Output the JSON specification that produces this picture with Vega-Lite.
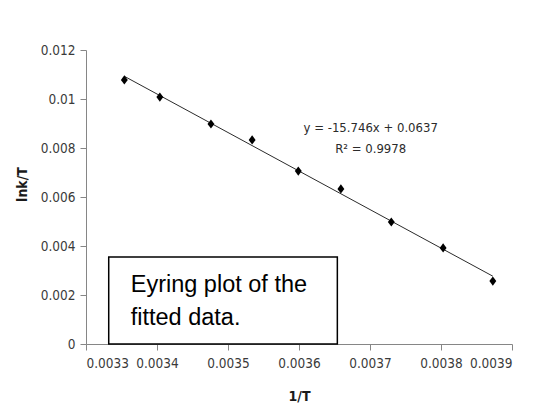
{
  "$schema": "https://vega.github.io/schema/vega-lite/v6.json",
  "width": 426,
  "height": 294,
  "autosize": {"type": "none"},
  "padding": {"left": 86, "top": 50, "right": 38, "bottom": 73},
  "background": "white",
  "config": {
    "view": {"stroke": null},
    "axis": {
      "grid": false,
      "domainColor": "#868686",
      "tickColor": "#868686",
      "tickSize": 6,
      "labelFont": "DejaVu Sans Condensed",
      "labelFontSize": 13.5,
      "labelColor": "#3a3a3a",
      "titleFont": "DejaVu Sans Condensed",
      "titleFontSize": 14,
      "titleFontWeight": "bold",
      "titleColor": "#1a1a1a"
    }
  },
  "datasets": {
    "pts": [
      {"inv_T": 0.003354, "lnk_T": 0.01078},
      {"inv_T": 0.003404, "lnk_T": 0.01008},
      {"inv_T": 0.003476, "lnk_T": 0.00898},
      {"inv_T": 0.003534, "lnk_T": 0.00833},
      {"inv_T": 0.003599, "lnk_T": 0.00706},
      {"inv_T": 0.003659, "lnk_T": 0.00633},
      {"inv_T": 0.003730, "lnk_T": 0.00498},
      {"inv_T": 0.003803, "lnk_T": 0.00392},
      {"inv_T": 0.003873, "lnk_T": 0.00257}
    ],
    "box": [
      {"x1": 0.003332, "x2": 0.003654, "y1": 0, "y2": 0.00355, "tx": 0.003363, "ty": 0.00212, "label": "Eyring plot of the\nfitted data."}
    ],
    "eq": [
      {"ex": 0.003701, "ey": 0.00882, "label": "y = -15.746x + 0.0637\nR² = 0.9978"}
    ]
  },
  "layer": [
    {
      "data": {"name": "pts"},
      "transform": [
        {"regression": "lnk_T", "on": "inv_T", "extent": [0.003354, 0.003873]}
      ],
      "mark": {"type": "line", "color": "#2b2b2b", "strokeWidth": 1},
      "encoding": {
        "x": {"field": "inv_T", "type": "quantitative"},
        "y": {"field": "lnk_T", "type": "quantitative"}
      }
    },
    {
      "data": {"name": "pts"},
      "mark": {"type": "point", "shape": "M0,-1L0.75,0L0,1L-0.75,0Z", "filled": true, "color": "#000000", "size": 85, "opacity": 1},
      "encoding": {
        "x": {
          "field": "inv_T", "type": "quantitative",
          "scale": {"domain": [0.0033, 0.0039], "nice": false, "zero": false},
          "axis": {"values": [0.0033, 0.0034, 0.0035, 0.0036, 0.0037, 0.0038, 0.0039], "format": "~g", "title": "1/T", "labelPadding": 6, "titleY": 52, "titleBaseline": "middle"}
        },
        "y": {
          "field": "lnk_T", "type": "quantitative",
          "scale": {"domain": [0, 0.012], "nice": false},
          "axis": {"values": [0, 0.002, 0.004, 0.006, 0.008, 0.01, 0.012], "format": "~g", "title": "lnk/T", "labelPadding": 5, "titleX": -64, "titleY": 134, "titleAngle": 270, "titleBaseline": "middle", "titleAlign": "center"}
        }
      }
    },
    {
      "data": {"name": "box"},
      "mark": {"type": "rect", "fill": "white", "stroke": "#000000", "strokeWidth": 1.5},
      "encoding": {
        "x": {"field": "x1", "type": "quantitative"},
        "x2": {"field": "x2"},
        "y": {"field": "y1", "type": "quantitative"},
        "y2": {"field": "y2"}
      }
    },
    {
      "data": {"name": "box"},
      "mark": {"type": "text", "font": "Liberation Sans", "fontSize": 23.5, "align": "left", "baseline": "alphabetic", "lineBreak": "\n", "lineHeight": 33, "color": "#000000"},
      "encoding": {
        "x": {"field": "tx", "type": "quantitative"},
        "y": {"field": "ty", "type": "quantitative"},
        "text": {"field": "label"}
      }
    },
    {
      "data": {"name": "eq"},
      "mark": {"type": "text", "font": "DejaVu Sans Condensed", "fontSize": 13, "align": "center", "baseline": "middle", "lineBreak": "\n", "lineHeight": 21, "color": "#2b2b2b"},
      "encoding": {
        "x": {"field": "ex", "type": "quantitative"},
        "y": {"field": "ey", "type": "quantitative"},
        "text": {"field": "label"}
      }
    }
  ]
}
